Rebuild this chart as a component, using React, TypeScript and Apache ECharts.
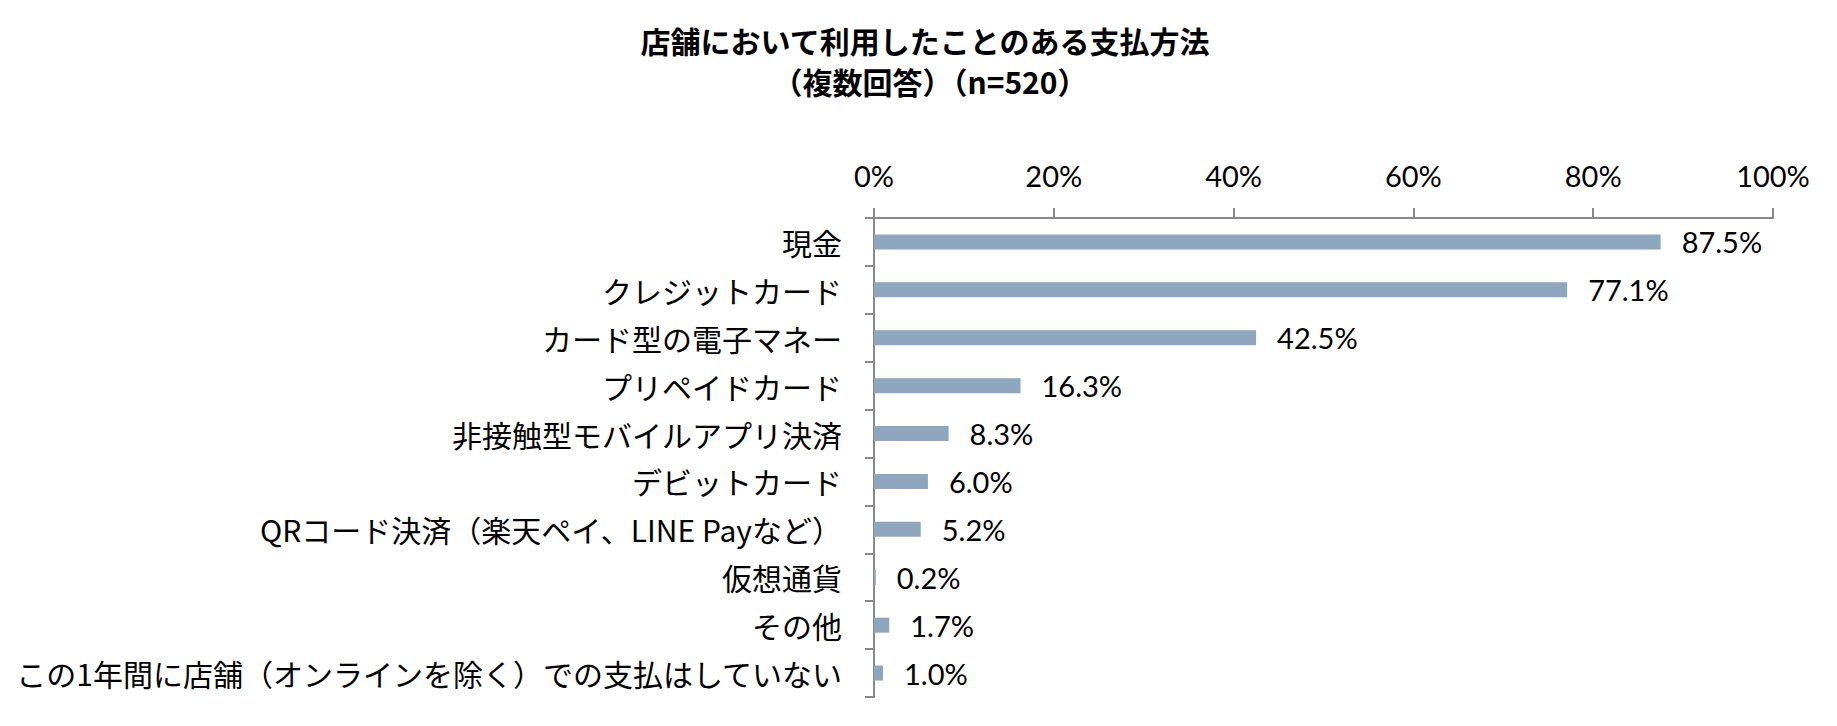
import React, { useEffect, useRef } from "react";
import * as echarts from "echarts";

const categories = [
  "現金",
  "クレジットカード",
  "カード型の電子マネー",
  "プリペイドカード",
  "非接触型モバイルアプリ決済",
  "デビットカード",
  "QRコード決済（楽天ペイ、LINE Payなど）",
  "仮想通貨",
  "その他",
  "この1年間に店舗（オンラインを除く）での支払はしていない",
];
const values = [87.5, 77.1, 42.5, 16.3, 8.3, 6.0, 5.2, 0.2, 1.7, 1.0];
const titleLine1 = "店舗において利用したことのある支払方法";
const titleLine2 = "（複数回答）（n=520）";

export default function App() {
  const ref = useRef<HTMLDivElement>(null);
  useEffect(() => {
    document.body.style.margin = "0";
    if (!ref.current) return;
    const chart = echarts.init(ref.current, null, { renderer: "svg" });
    const axisColor = "#898989";
    chart.setOption({
      animation: false,
      backgroundColor: "#ffffff",
      graphic: [
        {
          type: "text",
          x: 925,
          y: 40,
          style: {
            text: titleLine1,
            fontSize: 30,
            lineHeight: 34,
            fontWeight: "bold",
            fontFamily: "'Noto Sans CJK JP', sans-serif",
            fill: "#000",
            textAlign: "center",
            textVerticalAlign: "middle",
          },
        },
        {
          type: "text",
          x: 930,
          y: 81,
          style: {
            text: titleLine2,
            fontSize: 30,
            lineHeight: 34,
            fontWeight: "bold",
            fontFamily: "'Noto Sans CJK JP', sans-serif",
            fill: "#000",
            textAlign: "center",
            textVerticalAlign: "middle",
          },
        },
      ],
      grid: { left: 874, right: 64, top: 218, bottom: 29, containLabel: false },
      xAxis: {
        type: "value",
        position: "top",
        min: 0,
        max: 100,
        interval: 20,
        splitLine: { show: false },
        axisLine: { show: true, lineStyle: { color: axisColor, width: 2 } },
        axisTick: { show: true, length: 10, lineStyle: { color: axisColor, width: 2 } },
        axisLabel: {
          formatter: "{value}%",
          fontSize: 29,
          fontFamily: "Lato, sans-serif",
          color: "#000",
          margin: 28,
        },
      },
      yAxis: {
        type: "category",
        data: categories,
        inverse: true,
        axisLine: { show: true, lineStyle: { color: axisColor, width: 2 } },
        axisTick: { show: true, length: 9, lineStyle: { color: axisColor, width: 2 } },
        axisLabel: {
          fontSize: 30,
          fontFamily: "'Noto Sans CJK JP', sans-serif",
          color: "#000",
          margin: 32,
        },
      },
      series: [
        {
          type: "bar",
          data: values,
          barWidth: 15,
          itemStyle: { color: "#8FA6BF" },
          label: {
            show: true,
            position: "right",
            distance: 21,
            formatter: (p: any) => p.value.toFixed(1) + "%",
            fontSize: 29,
            fontFamily: "Lato, sans-serif",
            color: "#000",
          },
        },
      ],
    });
    return () => chart.dispose();
  }, []);
  return <div ref={ref} style={{ width: 1837, height: 726 }} />;
}
